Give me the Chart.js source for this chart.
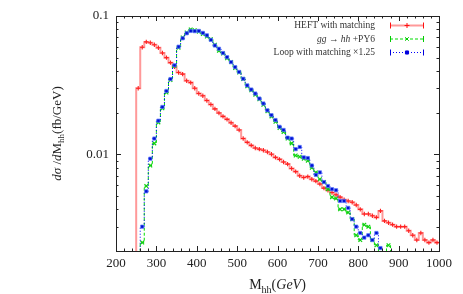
<!DOCTYPE html>
<html><head><meta charset="utf-8">
<script src="https://cdn.jsdelivr.net/npm/chart.js@4"></script>
<style>html,body{margin:0;padding:0;background:#fff}canvas{display:block}</style>
</head><body>
<canvas id="c" width="463" height="294"></canvas>
<script>
// Bin centres (GeV), 10 GeV bins
const binCenters = [245,255,265,275,285,295,305,315,325,335,345,355,365,375,385,395,405,415,425,435,445,455,465,475,485,495,
  505,515,525,535,545,555,565,575,585,595,605,615,625,635,645,655,665,675,685,695,
  705,715,725,735,745,755,765,775,785,795,805,815,825,835,845,855,865,875,885,895,
  905,915,925,935,945,955,965,975,985,995];
const BIN_W = 10;

const heftMatching = [0,0.030,0.0595,0.065,0.064,0.062,0.059,0.054,0.050,0.046,0.043,
  0.039,0.038,0.034,0.033,0.030,0.0275,0.0265,0.0245,0.0229,0.0213,
  0.0199,0.0188,0.0179,0.0169,0.0160,0.0150,0.0130,0.0122,0.0116,0.0111,
  0.0109,0.0107,0.0104,0.0100,0.0095,0.0092,0.0088,0.0085,0.0079,0.0075,
  0.0070,0.0068,0.0069,0.0066,0.0064,0.0061,0.0057,0.0055,0.0053,0.0051,
  0.0049,0.0047,0.0046,0.0045,0.0043,0.0040,0.0037,0.0037,0.0036,0.0035,
  0.0039,0.0033,0.0032,0.0031,0.0030,0.0030,0.0030,0.0028,0.0026,0.0024,
  0.0027,0.0024,0.0023,0.0024,0.0023];

const ggPY6 = [null,0.0010,0.0023,0.0059,0.0083,0.0120,0.0170,0.0215,0.0280,0.0345,0.0435,
  0.059,0.070,0.076,0.080,0.079,0.077,0.074,0.071,0.068,0.062,
  0.056,0.0535,0.0495,0.0465,0.0420,0.0390,0.0350,0.0310,0.0290,0.0270,
  0.0250,0.0228,0.0205,0.0188,0.0172,0.0155,0.0145,0.0130,0.0120,0.0098,
  0.0096,0.0093,0.0090,0.0080,0.0074,0.0066,0.0063,0.0056,0.0049,0.0048,
  0.0040,0.0040,0.0038,0.0034,0.0026,0.0024,0.0031,0.0030,0.0024,0.0022,
  0.0019,0.0017,0.0022,0.0012,
  null,null,null,null,null,null,null,null,null,null,null];

const loopMatching = [null,0.0012,0.0030,0.0054,0.0093,0.0130,0.0175,0.022,0.0287,0.035,0.044,
  0.060,0.069,0.075,0.078,0.0777,0.078,0.0755,0.0725,0.0672,0.0612,
  0.058,0.054,0.0504,0.0464,0.0427,0.0394,0.0352,0.0315,0.0294,0.0275,
  0.0253,0.0233,0.0208,0.0192,0.0177,0.0158,0.0150,0.0132,0.0130,0.0109,
  0.0113,0.0095,0.0094,0.0083,0.0071,0.0074,0.0063,0.0059,0.0056,0.0055,
  0.0046,0.0046,0.0041,0.0034,0.0030,0.0027,0.0025,0.0026,0.0024,0.0027,
  0.0021,0.0015,
  null,null,null,null,null,null,null,null,null,null,null,null,null];

const xTickLabels = [200,300,400,500,600,700,800,900,1000];
const yTickLabels = [0.01,0.1];
const legendLabels = ['HEFT with matching','gg → hh +PY6','Loop with matching ×1.25'];

// empty bins (0) cannot sit on a log axis: draw them just below the visible range
const FLOOR = 1e-5;
function edgePoints(vals){
  const pts=[]; let last=null;
  vals.forEach((v,i)=>{
    if(v===null){
      if(last!==null){ pts.push({x:binCenters[i-1]+BIN_W/2,y:last}); pts.push({x:binCenters[i],y:null}); last=null; }
      return;
    }
    const y = v>0? v : FLOOR;
    pts.push({x:binCenters[i]-BIN_W/2,y:y}); last=y;
  });
  if(last!==null) pts.push({x:binCenters[binCenters.length-1]+BIN_W/2,y:last});
  return pts;
}
function markerPoints(vals){
  return binCenters.map((x,i)=>({x:x,y:vals[i]})).filter(p=>p.y);
}

const SERIF='"Liberation Serif","DejaVu Serif",serif';
function fontOf(s,size){
  return (s==='i'?'italic ':'')+size+'px '+SERIF;
}
function richWidth(ctx,segs,size){
  let w=0; segs.forEach(s=>{ctx.font=fontOf(s.s, s.s==='sub'?Math.round(size*0.7):size); w+=ctx.measureText(s.t).width;}); return w;
}
function drawRich(ctx,segs,x,y,size,align){
  const w=richWidth(ctx,segs,size);
  let cx = align==='right'? x-w : align==='center'? x-w/2 : x;
  ctx.textAlign='left'; ctx.textBaseline='alphabetic';
  segs.forEach(s=>{
    const sz = s.s==='sub'?Math.round(size*0.7):size;
    ctx.font=fontOf(s.s,sz);
    ctx.fillText(s.t,cx,y+(s.s==='sub'?size*0.25:0));
    cx+=ctx.measureText(s.t).width;
  });
}

const decor = {
  id:'decor',
  afterDraw(chart){
    const ctx=chart.ctx, a=chart.chartArea, xs=chart.scales.x, ys=chart.scales.y;
    ctx.save();
    ctx.strokeStyle='#222'; ctx.lineWidth=1;
    // ticks
    ctx.beginPath();
    for(let v=200; v<=1000; v+=20){
      const px=Math.round(xs.getPixelForValue(v))+0.5;
      const L = (v%100===0)?5:2.5;
      ctx.moveTo(px,a.bottom); ctx.lineTo(px,a.bottom-L);
      ctx.moveTo(px,a.top); ctx.lineTo(px,a.top+L);
    }
    [0.001,0.01].forEach(dec=>{
      for(let m=1;m<=9;m++){
        const v=dec*m; if(v<ys.min-1e-12||v>ys.max+1e-12) continue;
        const py=Math.round(ys.getPixelForValue(v))+0.5;
        const L=(m===1)?5:2.5;
        ctx.moveTo(a.left,py); ctx.lineTo(a.left+L,py);
        ctx.moveTo(a.right,py); ctx.lineTo(a.right-L,py);
      }
    });
    const p1=Math.round(ys.getPixelForValue(0.1))+0.5;
    ctx.moveTo(a.left,p1); ctx.lineTo(a.left+5,p1);
    ctx.moveTo(a.right,p1); ctx.lineTo(a.right-5,p1);
    ctx.stroke();
    // frame
    ctx.strokeRect(Math.round(a.left)+0.5,Math.round(a.top)+0.5,Math.round(a.right-a.left),Math.round(a.bottom-a.top));

    // axis titles
    ctx.fillStyle='#222';
    drawRich(ctx,[{t:'M',s:'n'},{t:'hh',s:'sub'},{t:'(',s:'n'},{t:'GeV',s:'i'},{t:')',s:'n'}],(a.left+a.right)/2,289,14,'center');
    ctx.save();
    ctx.translate(61,(a.top+a.bottom)/2);
    ctx.rotate(-Math.PI/2);
    drawRich(ctx,[{t:'dσ',s:'i'},{t:' /',s:'n'},{t:'d',s:'i'},{t:'M',s:'n'},{t:'hh',s:'sub'},{t:'(fb/GeV)',s:'n'}],0,0,13,'center');
    ctx.restore();

    // legend
    const rows=[
      {segs:[{t:legendLabels[0],s:'n'}], col:'rgba(255,70,70,0.55)', mk:'#ff1010', dash:[], lw:2, style:'cross'},
      {segs:[{t:'gg',s:'i'},{t:' → ',s:'n'},{t:'hh',s:'i'},{t:' +PY6',s:'n'}], col:'#00dd00', mk:'#00cc00', dash:[3,2], lw:1, style:'crossRot'},
      {segs:[{t:legendLabels[2],s:'n'}], col:'#0000ff', mk:'#0000dd', dash:[1,2], lw:1, style:'rect'}
    ];
    const ly0=a.top+9, dy=13.5, tx=375, sx0=390, sx1=424;
    rows.forEach((r,i)=>{
      const y=ly0+i*dy;
      ctx.fillStyle='#333';
      drawRich(ctx,r.segs,tx,y+3,9.5,'right');
      ctx.save();
      ctx.strokeStyle=r.col; ctx.lineWidth=r.lw; ctx.setLineDash(r.dash);
      ctx.beginPath(); ctx.moveTo(sx0,y+0.5); ctx.lineTo(sx1,y+0.5); ctx.stroke();
      ctx.setLineDash([]); ctx.lineWidth=1; ctx.strokeStyle=r.mk; ctx.fillStyle=r.mk;
      ctx.beginPath(); ctx.moveTo(sx0+0.5,y-2.5); ctx.lineTo(sx0+0.5,y+3.5); ctx.moveTo(sx1-0.5,y-2.5); ctx.lineTo(sx1-0.5,y+3.5); ctx.stroke();
      Chart.helpers.drawPoint(ctx,{pointStyle:r.style,radius:r.style==='rect'?2.2:2.5,borderWidth:1.2,rotation:0},(sx0+sx1)/2,y+0.5);
      ctx.restore();
    });
    ctx.restore();
  }
};

const lineDs=(vals,color,width,dash)=>({data:edgePoints(vals),stepped:true,borderColor:color,borderWidth:width,borderDash:dash,pointRadius:0,fill:false,spanGaps:false});
const markDs=(vals,color,fill,style,r,bw)=>({data:markerPoints(vals),showLine:false,pointStyle:style,pointRadius:r,borderColor:color,backgroundColor:fill,pointBorderWidth:bw,borderWidth:bw});

new Chart(document.getElementById('c'),{
  type:'line',
  data:{datasets:[
    markDs(loopMatching,'rgba(90,120,255,0.7)','#0010d0','rect',2.3,1),
    lineDs(loopMatching,'#0000ff',1,[1,2]),
    markDs(ggPY6,'#10d010','#10d010','crossRot',2.6,1.2),
    lineDs(ggPY6,'#00dd00',1,[3,2]),
    markDs(heftMatching,'#ff2020','#ff2020','cross',2.2,1.1),
    lineDs(heftMatching,'rgba(255,70,70,0.55)',2,[])
  ]},
  options:{
    responsive:false, animation:false, events:[],
    layout:{padding:{top:16,right:24,left:0,bottom:0}},
    plugins:{legend:{display:false},tooltip:{enabled:false}},
    scales:{
      x:{type:'linear',min:200,max:1000,
        afterBuildTicks:s=>{s.ticks=xTickLabels.map(v=>({value:v}));},
        afterFit:s=>{s.height=43;},
        grid:{display:false,drawTicks:false}, border:{display:false},
        ticks:{font:{family:SERIF,size:13},color:'#222',padding:5,maxRotation:0,autoSkip:false,callback:v=>String(v)}},
      y:{type:'logarithmic',min:0.002,max:0.1,
        afterBuildTicks:s=>{s.ticks=yTickLabels.map(v=>({value:v}));},
        afterFit:s=>{s.width=116;},
        grid:{display:false,drawTicks:false}, border:{display:false},
        ticks:{font:{family:SERIF,size:13},color:'#222',padding:7,autoSkip:false,callback:v=>String(v)}}
    }
  },
  plugins:[decor]
});
</script>
</body></html>
